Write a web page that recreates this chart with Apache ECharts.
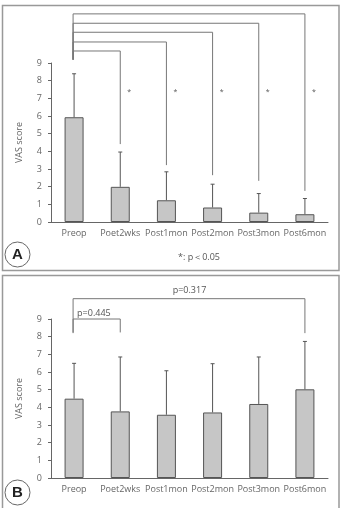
<!DOCTYPE html>
<html>
<head>
<meta charset="utf-8">
<script src="https://cdn.jsdelivr.net/npm/echarts@6/dist/echarts.min.js"></script>
<style>
  html, body { margin: 0; padding: 0; background: #fff; }
  #chart { width: 342px; height: 508px; }
</style>
</head>
<body>
<div id="chart"></div>
<script>
const categories = ['Preop', 'Poet2wks', 'Post1mon', 'Post2mon', 'Post3mon', 'Post6mon'];
const yTicks = [0, 1, 2, 3, 4, 5, 6, 7, 8, 9];

// panel A: mean VAS and upper SD end
const meanA = [5.93, 1.99, 1.23, 0.82, 0.53, 0.44];
const upperA = [8.39, 3.96, 2.84, 2.14, 1.61, 1.33];
// brackets: [from, to, top, leftBottom, rightBottom]
const bracketsA = [
  [0, 1, 9.68, 9.19, 4.41],
  [0, 2, 10.19, 9.19, 3.22],
  [0, 3, 10.74, 9.19, 2.65],
  [0, 4, 11.25, 9.19, 2.33],
  [0, 5, 11.78, 9.19, 1.76]
];
const starsA = [1, 2, 3, 4, 5];
const starLevel = 7.5;

// panel B
const meanB = [4.49, 3.77, 3.58, 3.71, 4.19, 5.02];
const upperB = [6.49, 6.85, 6.07, 6.47, 6.85, 7.73];
const bracketsB = [
  [0, 1, 9.0, 8.24, 8.24, 'p=0.445'],
  [0, 5, 10.15, 8.2, 8.2, 'p=0.317']
];

const font = '"Open Sans", Lato, sans-serif';
const axisColor = '#666';
const textColor = '#666';

const chart = echarts.init(document.getElementById('chart'));

function errRender(params, api) {
  const i = api.value(0);
  const base = api.coord([i, api.value(1)]);
  const top = api.coord([i, api.value(2)]);
  return {
    type: 'group',
    children: [
      { type: 'line', shape: { x1: base[0], y1: base[1], x2: top[0], y2: top[1] }, style: { stroke: '#555', lineWidth: 1 } },
      { type: 'line', shape: { x1: top[0] - 2, y1: top[1], x2: top[0] + 2, y2: top[1] }, style: { stroke: '#555', lineWidth: 1 } }
    ]
  };
}

function bracketRender(params, api) {
  const a = api.coord([api.value(0), api.value(2)]);
  const b = api.coord([api.value(1), api.value(2)]);
  const la = api.coord([api.value(0), api.value(3)]);
  const rb = api.coord([api.value(1), api.value(4)]);
  return {
    type: 'polyline',
    shape: { points: [[la[0] - 1, la[1]], [a[0] - 1, a[1]], [b[0], b[1]], [rb[0], rb[1]]] },
    style: { stroke: '#777', lineWidth: 1, fill: null }
  };
}

function xAxisCfg(gridIndex) {
  return {
    type: 'category',
    gridIndex: gridIndex,
    data: categories,
    axisLine: { lineStyle: { color: axisColor, width: 1 } },
    axisTick: { length: 4, lineStyle: { color: axisColor } },
    axisLabel: { color: textColor, fontSize: 9, fontFamily: font, margin: 7, interval: 0 }
  };
}

function yAxisCfg(gridIndex) {
  return {
    type: 'value',
    gridIndex: gridIndex,
    min: 0,
    max: 9,
    interval: 1,
    name: 'VAS score',
    nameLocation: 'middle',
    nameGap: 27,
    nameTextStyle: { color: textColor, fontSize: 9, fontFamily: font },
    axisLine: { show: true, lineStyle: { color: axisColor, width: 1 } },
    axisTick: { show: true, length: 3, lineStyle: { color: axisColor } },
    axisLabel: { color: textColor, fontSize: 9, fontFamily: font, margin: 9,
      formatter: v => yTicks.includes(v) ? String(v) : '' },
    splitLine: { show: false }
  };
}

function barSeries(idx, data) {
  return {
    type: 'bar',
    xAxisIndex: idx,
    yAxisIndex: idx,
    data: data,
    barWidth: 19,
    z: 2,
    itemStyle: { color: '#c6c6c6', borderColor: '#555', borderWidth: 1 },
    silent: true
  };
}

function errSeries(idx, mean, upper) {
  return {
    type: 'custom',
    xAxisIndex: idx,
    yAxisIndex: idx,
    clip: false,
    z: 3,
    encode: { x: 0, y: [1, 2] },
    renderItem: errRender,
    data: mean.map((m, i) => [i, m, upper[i]])
  };
}

const option = {
  animation: false,
  grid: [
    { left: 51, width: 277, top: 63, height: 159 },
    { left: 51, width: 277, top: 319, height: 159 }
  ],
  xAxis: [xAxisCfg(0), xAxisCfg(1)],
  yAxis: [yAxisCfg(0), yAxisCfg(1)],
  graphic: [
    { type: 'rect', shape: { x: 2.5, y: 5.5, width: 336.5, height: 265 }, style: { fill: null, stroke: '#999', lineWidth: 1.5 } },
    { type: 'rect', shape: { x: 2.5, y: 275.5, width: 336.5, height: 240 }, style: { fill: null, stroke: '#999', lineWidth: 1.5 } },
    { type: 'circle', shape: { cx: 17.5, cy: 254.5, r: 12.5 }, style: { fill: '#fff', stroke: '#666', lineWidth: 1 } },
    { type: 'text', x: 17.5, y: 255, style: { text: 'A', fontSize: 15, fontWeight: 'bold', fontFamily: 'Liberation Sans, Arial', fill: '#222', align: 'center', verticalAlign: 'middle' } },
    { type: 'circle', shape: { cx: 17.5, cy: 492.5, r: 12.5 }, style: { fill: '#fff', stroke: '#666', lineWidth: 1 } },
    { type: 'text', x: 17.5, y: 493, style: { text: 'B', fontSize: 15, fontWeight: 'bold', fontFamily: 'Liberation Sans, Arial', fill: '#222', align: 'center', verticalAlign: 'middle' } },
    { type: 'text', x: 178, y: 257, style: { text: '*: p\uFF1C0.05', fontSize: 9, fontFamily: font, fill: '#555', verticalAlign: 'middle' } }
  ],
  series: [
    barSeries(0, meanA),
    errSeries(0, meanA, upperA),
    {
      type: 'custom', xAxisIndex: 0, yAxisIndex: 0, clip: false,
      renderItem: bracketRender, data: bracketsA
    },
    {
      type: 'custom', xAxisIndex: 0, yAxisIndex: 0, clip: false,
      renderItem: function (params, api) {
        const p = api.coord([api.value(0), api.value(1)]);
        return { type: 'text', x: p[0] + 9, y: p[1] + 2,
          style: { text: '*', fontSize: 7, fontFamily: font, fill: '#555', align: 'center', verticalAlign: 'middle' } };
      },
      data: starsA.map(i => [i, starLevel])
    },
    barSeries(1, meanB),
    errSeries(1, meanB, upperB),
    {
      type: 'custom', xAxisIndex: 1, yAxisIndex: 1, clip: false,
      renderItem: function (params, api) {
        const line = bracketRender(params, api);
        const d = bracketsB[params.dataIndex];
        const a = api.coord([d[0], d[2]]);
        const b = api.coord([d[1], d[2]]);
        const label = d[1] - d[0] > 2
          ? { type: 'text', x: (a[0] + b[0]) / 2, y: a[1] - 8, style: { text: d[5], fontSize: 9, fontFamily: font, fill: '#555', align: 'center', verticalAlign: 'middle' } }
          : { type: 'text', x: a[0] + 3, y: a[1] - 6, style: { text: d[5], fontSize: 9, fontFamily: font, fill: '#555', align: 'left', verticalAlign: 'middle' } };
        return { type: 'group', children: [line, label] };
      },
      data: bracketsB.map(d => d.slice(0, 5))
    }
  ]
};

chart.setOption(option);
window.addEventListener('resize', () => chart.resize());
</script>
</body>
</html>
